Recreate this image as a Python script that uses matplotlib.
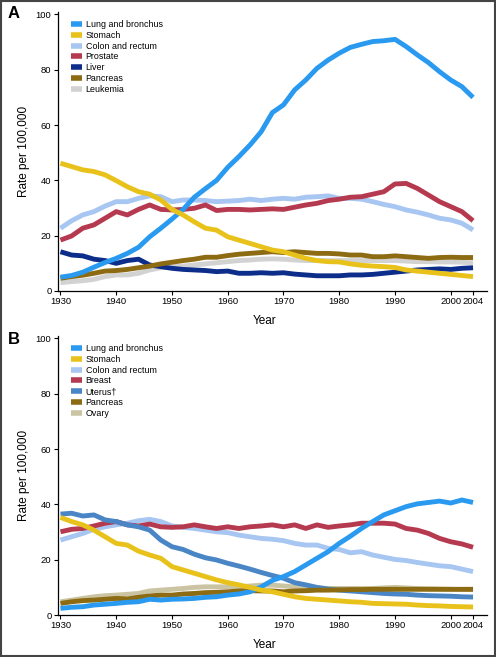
import numpy as np
import matplotlib
matplotlib.use('Agg')
import matplotlib.pyplot as plt
from matplotlib.patches import Rectangle

plt.rcParams['font.family'] = ['Liberation Sans', 'DejaVu Sans']

# Годы (шаг 2 года)
years = np.arange(1930, 2005, 2)

# Панель A - мужчины
a_lung = [5, 5.6, 6.8, 8.6, 10.3, 11.8, 13.6, 15.8, 19.6, 22.7, 26, 29.5, 33.9, 37, 40, 44.7, 48.6, 52.8, 57.6, 64.5,
          67.3, 72.7, 76.3, 80.5, 83.5, 86, 88.1, 89.2, 90.2, 90.5, 91, 88.4, 85.4, 82.6, 79.3, 76.3, 73.9, 70]
a_stomach = [46.2, 45, 43.8, 43.2, 42, 39.9, 37.7, 35.9, 35, 32.9, 29.5, 27.5, 25, 22.7, 22, 19.6, 18.4, 17.2, 16, 14.8,
             14.2, 13, 11.8, 11, 10.6, 10.5, 9.8, 9.3, 9, 8.8, 8.5, 7.6, 7.2, 6.8, 6.4, 6, 5.6, 5.2]
a_colon = [22.7, 25.4, 27.5, 28.7, 30.7, 32.3, 32.3, 33.5, 34.4, 34.1, 32.3, 32.9, 32.9, 32.7, 32.3, 32.5, 32.7, 33.2, 32.7, 33.2,
           33.5, 33.2, 33.9, 34.1, 34.4, 33.5, 33.5, 33.2, 32.3, 31.3, 30.5, 29.3, 28.5, 27.5, 26.3, 25.7, 24.5, 22.1]
a_prostate = [18.4, 19.9, 22.7, 23.9, 26.3, 28.7, 27.5, 29.5, 31.1, 29.5, 29.3, 29.5, 29.9, 31.1, 29.1, 29.5, 29.5, 29.3, 29.5, 29.7,
              29.5, 30.3, 31.1, 31.7, 32.7, 33.2, 33.9, 34.1, 35, 35.9, 38.7, 38.9, 37.1, 34.7, 32.3, 30.5, 28.7, 25.4]
a_liver = [14.2, 13, 12.7, 11.5, 11, 10, 11, 11.5, 9.4, 8.8, 8.2, 7.8, 7.6, 7.4, 7, 7.2, 6.4, 6.4, 6.6, 6.4,
           6.6, 6.1, 5.8, 5.5, 5.5, 5.5, 5.8, 5.8, 6, 6.4, 6.8, 7.2, 7.6, 7.8, 8, 7.8, 8.2, 8.4]
a_pancreas = [4.6, 5.2, 5.7, 6.4, 7.2, 7.4, 7.8, 8.4, 9, 9.8, 10.4, 11, 11.5, 12.2, 12.2, 12.8, 13.3, 13.6, 13.9, 14.2,
              13.9, 14.2, 13.9, 13.6, 13.6, 13.4, 13, 13, 12.4, 12.4, 12.7, 12.4, 12.1, 11.8, 12.1, 12.2, 12.1, 12.1]
a_leukemia = [3, 3.4, 3.7, 4.2, 5.2, 5.8, 5.8, 6.4, 7.6, 8.4, 8.8, 9, 9.4, 9.8, 10.2, 10.6, 11, 11.2, 11.5, 11.6,
              11.5, 11.2, 11, 11, 11, 11, 11, 11, 11, 11, 11, 10.8, 10.6, 10.6, 10.5, 10.5, 10.4, 10.2]

# Панель B - женщины
b_lung = [2.4, 2.8, 3, 3.6, 3.9, 4.2, 4.6, 4.8, 5.7, 5.4, 5.7, 5.8, 6, 6.4, 6.6, 7.2, 7.6, 8.4, 10.2, 12.5,
          13.9, 15.7, 18.1, 20.5, 22.9, 25.9, 28.5, 31.3, 33.8, 36.2, 37.7, 39.2, 40.2, 40.7, 41.2, 40.5, 41.6, 40.7]
b_stomach = [35.3, 33.8, 32.6, 30.7, 28.3, 25.9, 25.3, 23.1, 21.7, 20.5, 17.5, 16.3, 15.1, 13.9, 12.7, 11.7, 10.9, 10, 9, 8.4,
             7.5, 6.6, 6, 5.7, 5.4, 5.1, 4.8, 4.6, 4.2, 4.1, 4, 3.9, 3.6, 3.4, 3.3, 3.1, 3, 2.9]
b_colon = [27.1, 28.3, 29.5, 31, 31.9, 32.6, 33.2, 34.1, 34.6, 33.8, 32.2, 31.7, 31.3, 30.7, 30.1, 29.8, 28.9, 28.3, 27.7, 27.4,
           26.9, 25.9, 25.3, 25.3, 24.1, 23.7, 22.5, 22.9, 21.7, 20.9, 20.1, 19.7, 19, 18.4, 17.8, 17.5, 16.6, 15.7]
b_breast = [30.1, 31, 31.3, 32.2, 33.2, 33.8, 32.6, 32.2, 32.9, 31.9, 31.7, 31.9, 32.6, 31.9, 31.3, 31.9, 31.3, 31.9, 32.2, 32.6,
            31.9, 32.6, 31.3, 32.6, 31.7, 32.2, 32.6, 33.2, 33.2, 33.2, 32.9, 31.3, 30.7, 29.5, 27.7, 26.5, 25.7, 24.5]
b_uterus = [36.5, 36.8, 35.8, 36.2, 34.4, 33.8, 32.6, 31.9, 30.7, 27.1, 24.7, 23.7, 22, 20.7, 19.9, 18.7, 17.7, 16.6, 15.4, 14.3,
            13.3, 11.7, 10.9, 10, 9.4, 9, 8.7, 8.4, 8.1, 7.8, 7.6, 7.5, 7.2, 7, 6.9, 6.8, 6.6, 6.5]
b_pancreas = [4.2, 4.8, 5.2, 5.4, 5.7, 6, 5.8, 6.4, 6.9, 7.2, 7.2, 7.6, 7.8, 8.1, 8.2, 8.4, 8.7, 8.8, 8.7, 8.7,
              8.4, 8.7, 8.8, 9, 9, 9.1, 9.2, 9.2, 9.3, 9.3, 9.3, 9.3, 9.3, 9.3, 9.3, 9.3, 9.3, 9.3]
b_ovary = [4.8, 5.4, 6, 6.6, 7, 7.2, 7.5, 7.8, 8.7, 9, 9.3, 9.6, 10, 10.2, 10.2, 10.2, 10.2, 10.5, 10.8, 10.8,
           10.5, 10.2, 10, 9.8, 9.6, 9.6, 9.6, 9.6, 9.6, 9.8, 10, 9.8, 9.6, 9.5, 9.4, 9.3, 9.2, 9.2]

# Цвета
c_lung = '#2a9af0'
c_stomach = '#e8c21a'
c_colon = '#a7c6f2'
c_red = '#b53a50'
c_liver = '#0d2d8a'
c_pancreas = '#8c6b12'
c_leuk = '#d2d2d2'
c_uterus = '#4a86c6'
c_ovary = '#cbc4a2'

series_a = [('Lung and bronchus', a_lung, c_lung, 4),
            ('Stomach', a_stomach, c_stomach, 5),
            ('Colon and rectum', a_colon, c_colon, 3),
            ('Prostate', a_prostate, c_red, 3),
            ('Liver', a_liver, c_liver, 3),
            ('Pancreas', a_pancreas, c_pancreas, 3),
            ('Leukemia', a_leukemia, c_leuk, 2)]

series_b = [('Lung and bronchus', b_lung, c_lung, 4),
            ('Stomach', b_stomach, c_stomach, 5),
            ('Colon and rectum', b_colon, c_colon, 3),
            ('Breast', b_breast, c_red, 3),
            ('Uterus\u2020', b_uterus, c_uterus, 3),
            ('Pancreas', b_pancreas, c_pancreas, 3),
            ('Ovary', b_ovary, c_ovary, 2)]

fig = plt.figure(figsize=(4.96, 6.57), dpi=100)

def draw_panel(ax, series, letter, ly):
    for label, vals, col, z in series:
        ax.plot(years, vals, color=col, lw=3.5, label=label, zorder=z,
                solid_capstyle='butt', solid_joinstyle='round')
    ax.set_xlim(1929.5, 2006.5)
    ax.set_ylim(0, 101)
    ax.set_xticks([1930, 1940, 1950, 1960, 1970, 1980, 1990, 2000, 2004])
    ax.set_yticks([0, 20, 40, 60, 80, 100])
    ax.tick_params(labelsize=6.8, length=3, width=0.8, pad=1.5)
    for s in ['top', 'right']:
        ax.spines[s].set_visible(False)
    for s in ['left', 'bottom']:
        ax.spines[s].set_linewidth(0.9)
    ax.set_ylabel('Rate per 100,000', fontsize=8.5)
    ax.yaxis.set_label_coords(-0.064, 0.5)
    ax.set_xlabel('Year', fontsize=8.5)
    ax.xaxis.set_label_coords(0.483, -0.085)
    leg = ax.legend(loc='upper left', bbox_to_anchor=(0.031, 0.97), frameon=False,
                    fontsize=6.4, handlelength=1.2, handletextpad=0.45, labelspacing=0.2,
                    borderaxespad=0, borderpad=0)
    for h in leg.get_lines():
        h.set_linewidth(4)
    fig.text(0.028, ly, letter, fontsize=12, fontweight='bold', ha='center', va='center')

ax_a = fig.add_axes([0.1163, 0.5571, 0.8655, 0.4251])
draw_panel(ax_a, series_a, 'A', 0.980)

ax_b = fig.add_axes([0.1163, 0.0639, 0.8655, 0.4251])
draw_panel(ax_b, series_b, 'B', 0.4840)

# рамка вокруг всего рисунка
fig.patches.append(Rectangle((0.002, 0.0015), 0.996, 0.997, transform=fig.transFigure,
                             fill=False, edgecolor='#444444', linewidth=1.5))

fig.savefig('out.png', dpi=100)
